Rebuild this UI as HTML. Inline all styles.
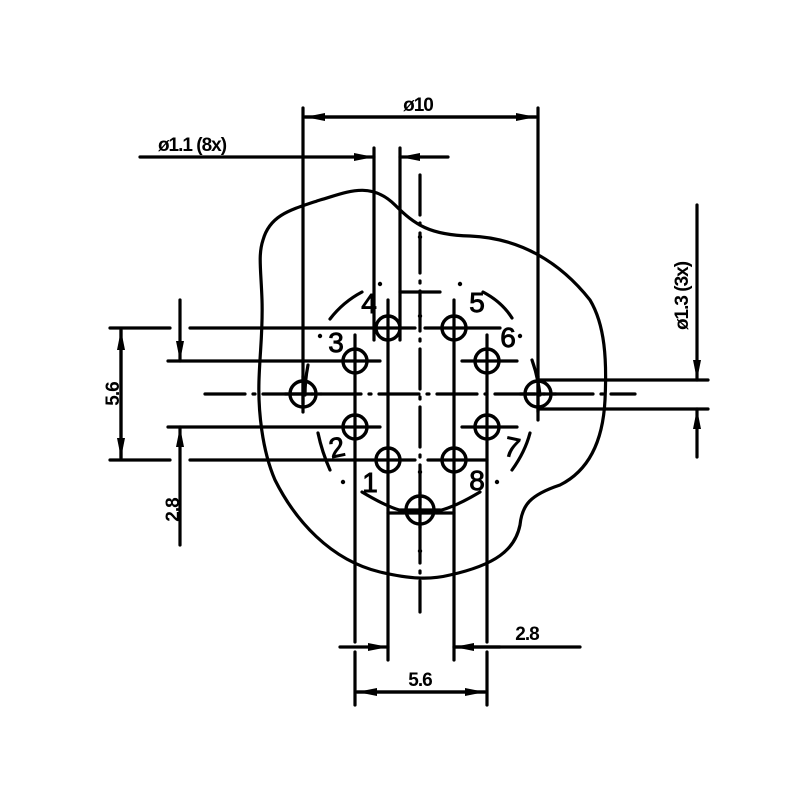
<!DOCTYPE html>
<html><head><meta charset="utf-8"><style>html,body{margin:0;padding:0;background:#fff}svg{display:block}</style></head>
<body>
<svg width="800" height="800" viewBox="0 0 800 800" xmlns="http://www.w3.org/2000/svg">
<defs>
<marker id="a" viewBox="0 0 20 8" refX="20" refY="4" markerWidth="20" markerHeight="8" markerUnits="userSpaceOnUse" orient="auto"><path d="M0,0 L20,4 L0,8 Z" fill="#000"/></marker>
</defs>
<g stroke="#000" stroke-width="3.2" fill="none" stroke-linecap="round">
<!-- outline blob -->
<path d="M263,240 C270,215 290,210 320,200 C345,193 370,180 395,205 C415,225 430,235 470,236 C520,238 560,262 590,300 C605,325 607,360 605,400 C603,440 590,470 560,485 C530,495 522,505 520,525 C515,550 495,565 450,575 C430,580 410,579 380,572 C330,560 295,520 275,480 C262,450 258,410 259,380 C260,350 263,330 262,300 C261,270 258,255 263,240 Z"/>
<!-- arcs -->
<path d="M330,319 Q343,302 362,292"/>
<path d="M483,292 Q502,302 512,318"/>
<path d="M532,360 Q538,377 540,395"/>
<path d="M308,365 Q305,380 305,395"/>
<path d="M318,433 Q322,452 330,470"/>
<path d="M530,433 Q525,452 512,470"/>
<path d="M362,492 Q392,510 408,512"/>
<path d="M432,512 Q450,510 480,492"/>
<!-- center lines -->
<path d="M205,394 H635" stroke-dasharray="40,8,2,8"/>
<path d="M420,175 V612" stroke-dasharray="40,8,2,8"/>
<path d="M400,292 H440"/>
<!-- horizontal extension lines -->
<path d="M110,328 H170 M190,328 H415 M425,328 H500"/>
<path d="M110,460 H170 M190,460 H415 M428,460 H487"/>
<path d="M168,361 H380 M462,361 H517"/>
<path d="M168,427 H380 M462,427 H517"/>
<path d="M538,380 H708 M538,409 H708"/>
<path d="M388,513 H454"/>
<!-- vertical extension lines -->
<path d="M303,108 V404"/>
<path d="M538,108 V420"/>
<path d="M374,148 V340"/>
<path d="M400,148 V340"/>
<path d="M388,300 V660"/>
<path d="M454,300 V660"/>
<path d="M355,335 V642 M355,652 V705"/>
<path d="M487,335 V642 M487,652 V705"/>
<!-- pins -->
<g stroke-width="3.4">
<circle cx="388" cy="328" r="12"/><circle cx="454" cy="328" r="12"/>
<circle cx="355" cy="361" r="12"/><circle cx="487" cy="361" r="12"/>
<circle cx="355" cy="427" r="12"/><circle cx="487" cy="427" r="12"/>
<circle cx="388" cy="460" r="12"/><circle cx="454" cy="460" r="12"/>
<circle cx="420" cy="510" r="14"/>
<circle cx="303" cy="394" r="13"/><circle cx="538" cy="394" r="13"/>
</g>
<path d="M420,492 V528 M400,510 H440"/>
<path d="M303,376 V412 M285,394 H321"/>
<path d="M538,376 V412 M520,394 H556"/>
<!-- dimensions -->
<path d="M305,117 H536" marker-end="url(#a)"/>
<path d="M536,117 H305" marker-end="url(#a)"/>
<path d="M140,157 H374" marker-end="url(#a)"/>
<path d="M448,157 H400" marker-end="url(#a)"/>
<path d="M121,458 V330" marker-end="url(#a)"/>
<path d="M121,330 V458" marker-end="url(#a)"/>
<path d="M180,300 V361" marker-end="url(#a)"/>
<path d="M180,545 V427" marker-end="url(#a)"/>
<path d="M697,205 V380" marker-end="url(#a)"/>
<path d="M697,457 V409" marker-end="url(#a)"/>
<path d="M340,647 H388" marker-end="url(#a)"/>
<path d="M580,647 H454"/>
<path d="M500,647 H454" marker-end="url(#a)"/>
<path d="M357,692 H485" marker-end="url(#a)"/>
<path d="M485,692 H357" marker-end="url(#a)"/>
</g>
<g fill="#000">
<circle cx="420" cy="237" r="2.2"/><circle cx="380" cy="284" r="2.2"/><circle cx="460" cy="284" r="2.2"/>
<circle cx="420" cy="316" r="2.2"/><circle cx="320" cy="336" r="2.2"/><circle cx="520" cy="336" r="2.2"/>
<circle cx="343" cy="482" r="2.2"/><circle cx="497" cy="482" r="2.2"/><circle cx="420" cy="472" r="2.2"/>
<circle cx="420" cy="551" r="2.2"/>
</g>
<g font-family="Liberation Sans, sans-serif" fill="#000">
<g font-size="28" text-anchor="middle" stroke="#000" stroke-width="0.9">
<text x="369" y="313">4</text><text x="477" y="312">5</text>
<text x="336" y="352">3</text><text x="508" y="347">6</text>
<text x="337" y="457" transform="rotate(-12 337 448)">2</text><text x="512" y="457" transform="rotate(12 512 448)">7</text>
<text x="370" y="492">1</text><text x="477" y="490">8</text>
</g>
<g font-size="19" font-weight="bold" text-anchor="middle" letter-spacing="-1">
<text x="418" y="111">ø10</text>
<text x="192" y="151">ø1.1 (8x)</text>
<text x="527" y="640">2.8</text>
<text x="420" y="686">5.6</text>
<text transform="translate(119,394) rotate(-90)">5.6</text>
<text transform="translate(179,510) rotate(-90)">2.8</text>
<text transform="translate(688,296) rotate(-90)">ø1.3 (3x)</text>
</g>
</g>
</svg>
</body></html>
